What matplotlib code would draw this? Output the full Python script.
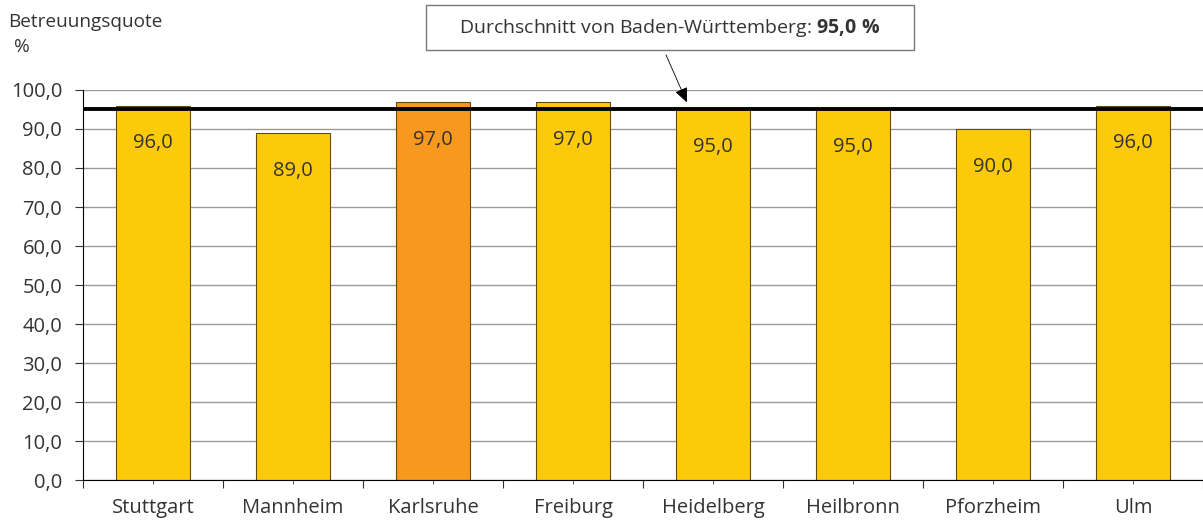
import numpy as np
import matplotlib.pyplot as plt
from matplotlib.patches import Rectangle

plt.rcParams['font.family'] = ['Open Sans', 'DejaVu Sans']
plt.rcParams['mathtext.fontset'] = 'custom'
plt.rcParams['mathtext.bf'] = 'Open Sans:bold'
plt.rcParams['mathtext.rm'] = 'Open Sans'

staedte = ['Stuttgart', 'Mannheim', 'Karlsruhe', 'Freiburg', 'Heidelberg',
           'Heilbronn', 'Pforzheim', 'Ulm']
quote = [96.0, 89.0, 97.0, 97.0, 95.0, 95.0, 90.0, 96.0]
durchschnitt = 95.0
hervorgehoben = 'Karlsruhe'

gelb = '#fcca0a'
orange = '#f7981f'
farben = [orange if s == hervorgehoben else gelb for s in staedte]
txt = '#333333'

fig = plt.figure(figsize=(12.03, 5.23), dpi=100)
ax = fig.add_axes([0.069, 0.082, 0.931, 0.746])

x = np.arange(len(staedte))
ax.bar(x, quote, width=0.53, color=farben, edgecolor='#5c4c10', linewidth=0.8, zorder=2)

# Werte in die Balken
for xi, v in zip(x, quote):
    ax.text(xi, v - 9.7, f'{v:.1f}'.replace('.', ','), ha='center', va='center',
            fontsize=14.5, color=txt, zorder=4)

# Landesdurchschnitt
ax.axhline(durchschnitt, color='black', lw=2.8, zorder=3)

ax.set_xlim(-0.5, len(staedte) - 0.5)
ax.set_ylim(0, 100)
yt = np.arange(0, 101, 10)
ax.set_yticks(yt)
ax.set_yticklabels([f'{v:.1f}'.replace('.', ',') for v in yt], fontsize=14.5, color=txt)
ax.yaxis.grid(True, color='#9a9a9a', lw=1)
ax.set_axisbelow(True)

ax.set_xticks(np.arange(-0.5, len(staedte), 1))
ax.set_xticklabels([])
ax.set_xticks(x, minor=True)
ax.set_xticklabels(staedte, minor=True, fontsize=14.5, color=txt)
ax.tick_params(axis='x', which='major', length=6, color=txt)
ax.tick_params(axis='x', which='minor', length=3, color=txt, pad=10)
ax.tick_params(axis='y', length=6, color=txt, pad=9)

for s in ['top', 'right']:
    ax.spines[s].set_visible(False)
ax.spines['left'].set_color('black')
ax.spines['bottom'].set_color('black')

# Kasten mit Hinweis
ax.add_patch(Rectangle((1.95, 110.3), 3.486, 11.5, fc='white', ec='#777777', lw=1,
                       clip_on=False, zorder=5))
ax.text(3.69, 116.0, 'Durchschnitt von Baden-Württemberg: $\\bf{95{,}0\\ \\%}$',
        ha='center', va='center', fontsize=14, color=txt, zorder=6)
ax.annotate('', xy=(3.814, 96.8), xytext=(3.664, 109.0),
            arrowprops=dict(arrowstyle='-|>,head_length=0.9,head_width=0.4',
                            color='black', lw=0.6, shrinkA=0, shrinkB=0),
            annotation_clip=False, zorder=5)

fig.text(0.007, 0.957, 'Betreuungsquote', fontsize=13.7, color=txt, va='center')
fig.text(0.012, 0.91, '%', fontsize=13.7, color=txt, va='center')

fig.savefig('out.png', dpi=100)
